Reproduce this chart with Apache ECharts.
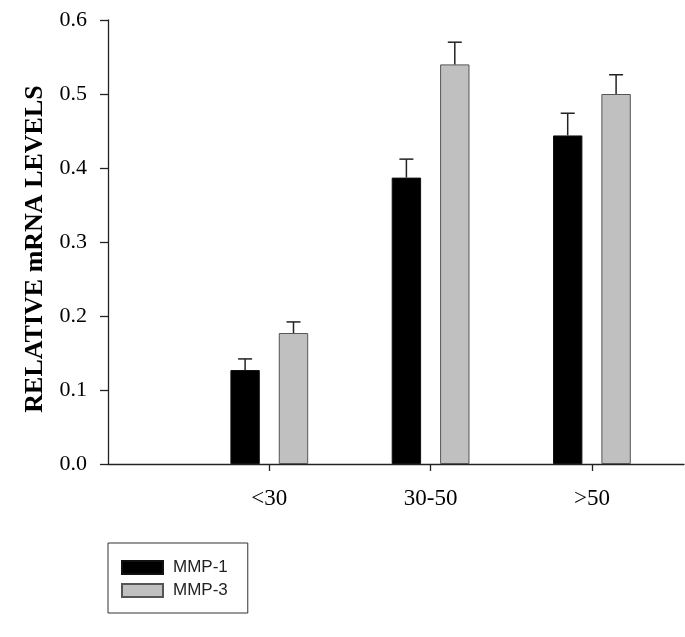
<!DOCTYPE html>
<html>
<head>
<meta charset="utf-8">
<script src="https://cdn.jsdelivr.net/npm/echarts@6/dist/echarts.min.js"></script>
<style>html,body{margin:0;padding:0;background:#fff}#c{width:685px;height:637px}</style>
</head>
<body>
<div id="c"></div>
<script>
const categories = ['<30', '30-50', '>50'];
const mmp1 = [0.127, 0.387, 0.444];
const mmp3 = [0.177, 0.540, 0.500];
const mmp1Err = [0.015, 0.025, 0.030];
const mmp3Err = [0.015, 0.030, 0.026];
const yTicks = [0, 0.1, 0.2, 0.3, 0.4, 0.5, 0.6];

const BAR_W = 29.4;
const GAP_PX = 19;
const OFF = (BAR_W + GAP_PX) / 2;
const catPos = categories.map((c, i) => i + 1);

const serif = '"Liberation Serif", "Times New Roman", serif';
const sans = '"Liberation Sans", Arial, sans-serif';

const errData = [];
categories.forEach((c, i) => {
  errData.push([catPos[i], mmp1[i], mmp1Err[i], 0]);
  errData.push([catPos[i], mmp3[i], mmp3Err[i], 1]);
});

const chart = echarts.init(document.getElementById('c'), null, {renderer: 'canvas'});
chart.setOption({
  backgroundColor: '#fff',
  animation: false,
  grid: {left: 108, right: 1, top: 20, bottom: 173, containLabel: false},
  legend: {
    data: ['MMP-1', 'MMP-3'],
    orient: 'vertical',
    left: 108,
    top: 543,
    icon: 'rect',
    itemWidth: 41,
    itemHeight: 13,
    itemGap: 6,
    borderColor: '#333',
    borderWidth: 1,
    padding: [16, 20, 14, 13],
    textStyle: {fontFamily: sans, fontSize: 17, color: '#222', padding: [0, 0, 0, 5]}
  },
  xAxis: {
    type: 'value',
    min: 0,
    max: 3.571,
    axisLine: {show: true, lineStyle: {color: '#222', width: 1.3}},
    axisTick: {show: true, customValues: catPos, length: 7, lineStyle: {color: '#222', width: 1.3}},
    axisLabel: {
      customValues: catPos,
      formatter: v => categories[Math.round(v) - 1] || '',
      fontFamily: serif, fontSize: 23, color: '#000', margin: 23
    },
    splitLine: {show: false}
  },
  yAxis: {
    type: 'value',
    min: yTicks[0],
    max: yTicks[yTicks.length - 1],
    interval: 0.1,
    name: 'RELATIVE mRNA LEVELS',
    nameLocation: 'middle',
    nameRotate: 90,
    nameGap: 56,
    nameTextStyle: {fontFamily: serif, fontSize: 26, fontWeight: 'bold', color: '#000', padding: [0, 14, 0, 0]},
    axisLine: {show: true, lineStyle: {color: '#222', width: 1.3}},
    axisTick: {show: true, length: 8, lineStyle: {color: '#222', width: 1.3}},
    axisLabel: {formatter: v => v.toFixed(1), fontFamily: serif, fontSize: 22, color: '#000', margin: 21},
    splitLine: {show: false}
  },
  series: [
    {
      name: 'MMP-1', type: 'bar',
      data: mmp1.map((v, i) => [catPos[i], v]),
      barWidth: BAR_W, barGap: (GAP_PX / BAR_W * 100).toFixed(1) + '%',
      itemStyle: {color: '#000', borderColor: '#111', borderWidth: 1}
    },
    {
      name: 'MMP-3', type: 'bar',
      data: mmp3.map((v, i) => [catPos[i], v]),
      barWidth: BAR_W, barGap: (GAP_PX / BAR_W * 100).toFixed(1) + '%',
      itemStyle: {color: '#c0c0c0', borderColor: '#555', borderWidth: 1}
    },
    {
      name: 'err', type: 'custom',
      data: errData,
      encode: {x: 0, y: 1},
      z: 5,
      renderItem: function (params, api) {
        const x = api.value(0), v = api.value(1), e = api.value(2), s = api.value(3);
        const base = api.coord([x, v]);
        const top = api.coord([x, v + e]);
        const px = base[0] + (s === 0 ? -OFF : OFF);
        const st = {stroke: '#222', lineWidth: 1.5};
        return {
          type: 'group',
          children: [
            {type: 'line', shape: {x1: px, y1: base[1], x2: px, y2: top[1]}, style: st},
            {type: 'line', shape: {x1: px - 7, y1: top[1], x2: px + 7, y2: top[1]}, style: st}
          ]
        };
      }
    }
  ]
});
</script>
</body>
</html>
